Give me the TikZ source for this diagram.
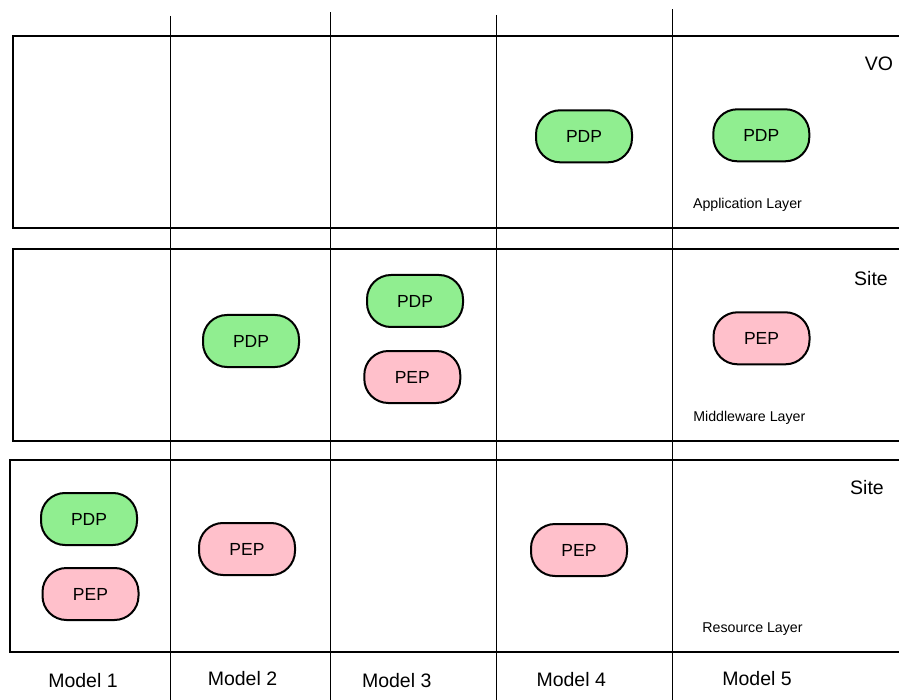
\documentclass[tikz,border=0pt]{standalone}
\usepackage{fontspec}
\setmainfont{Liberation Sans}
\definecolor{pdpgreen}{RGB}{144,238,144}
\definecolor{peppink}{RGB}{255,192,203}
\tikzset{
  layerbox/.style={line width=2pt, line join=miter},
  colline/.style={line width=1pt},
  pill/.style={draw, line width=2pt, rounded corners=24pt,
    minimum width=96pt, minimum height=52pt, inner sep=0pt,
    font=\fontsize{17.5}{20}\selectfont},
  pdp/.style={pill, fill=pdpgreen},
  pep/.style={pill, fill=peppink},
  biglabel/.style={inner sep=0pt, font=\fontsize{19.5}{22}\selectfont},
  layerlabel/.style={inner sep=0pt, anchor=base, font=\fontsize{14.2}{16}\selectfont}
}
\begin{document}
\begin{tikzpicture}[x=1pt, y=-1pt]
\useasboundingbox (0,0) rectangle (899,700);
\clip (0,0) rectangle (899,700);

% the three layers, open towards the right edge
\draw[layerbox] (905,36) -- (13,36) -- (13,228.5) -- (905,228.5);
\draw[layerbox] (905,249) -- (13,249) -- (13,441) -- (905,441);
\draw[layerbox] (905,459.5) -- (10,459.5) -- (10,652) -- (905,652);

% column separators between the models
\draw[colline] (170,16) -- (170,700);
\draw[colline] (330,12.3) -- (330,700);
\draw[colline] (496.7,15) -- (496.7,700);
\draw[colline] (672.7,9.5) -- (672.7,700);

% application layer
\node[pdp] (app4) at (584,136.3) {PDP};
\node[pdp] (app5) at (761.3,135.3) {PDP};
\node[biglabel] (vo) at (879,64) {VO};
\node[layerlabel] (applayer) at (747.5,208.3) {Application Layer};

% middleware layer
\node[pdp] (mid2) at (251,341) {PDP};
\node[pdp] (mid3a) at (415,301) {PDP};
\node[pep] (mid3b) at (412.3,377) {PEP};
\node[pep] (mid5) at (761.5,338.3) {PEP};
\node[biglabel] (site1) at (871,279) {Site};
\node[layerlabel] (midlayer) at (749.3,421) {Middleware Layer};

% resource layer
\node[pdp] (res1a) at (89,519) {PDP};
\node[pep] (res1b) at (90.5,594) {PEP};
\node[pep] (res2) at (247,549) {PEP};
\node[pep] (res4) at (579,550) {PEP};
\node[biglabel] (site2) at (867,488) {Site};
\node[layerlabel] (reslayer) at (752.5,632.5) {Resource Layer};

% model captions
\node[biglabel] (m1) at (83,681) {Model 1};
\node[biglabel] (m2) at (242.5,679) {Model 2};
\node[biglabel] (m3) at (396.7,681) {Model 3};
\node[biglabel] (m4) at (571.2,680) {Model 4};
\node[biglabel] (m5) at (757,679) {Model 5};
\end{tikzpicture}
\end{document}
